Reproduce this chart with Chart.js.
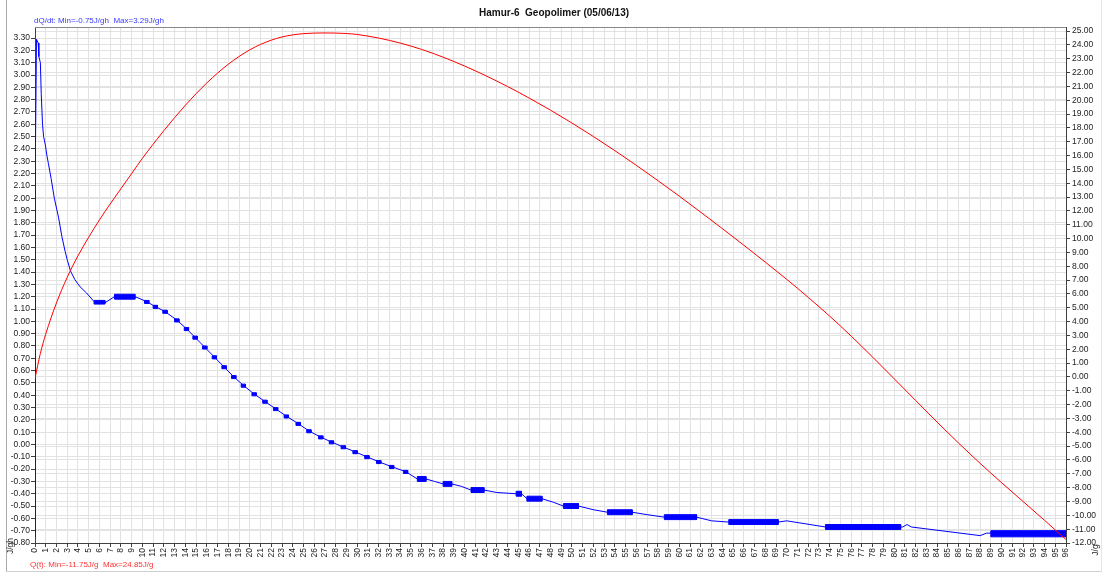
<!DOCTYPE html>
<html><head><meta charset="utf-8">
<script src="https://cdn.jsdelivr.net/npm/chart.js@4/dist/chart.umd.min.js"></script>
<style>html,body{margin:0;padding:0;background:#fff;overflow:hidden}canvas{display:block}</style>
</head><body>
<canvas id="c" width="1107" height="575"></canvas>
<script>
// ---- texts ----
const chartTitle = "Hamur-6  Geopolimer (05/06/13)";
const leftInfo = "dQ/dt: Min=-0.75J/gh  Max=3.29J/gh";
const rightInfo = "Q(t): Min=-11.75J/g  Max=24.85J/g";
const leftUnit = "J/gh";
const rightUnit = "J/g";

// ---- axis ranges ----
const hourRange = [0, 96];
const rateRange = [-0.8, 3.39];   // left axis J/gh
const heatRange = [-12, 25.29];   // right axis J/g

// ---- dQ/dt (blue), [hour, J/gh] ----
const ratePoints = [
 [0,-0.75],[0.03,2.3],[0.14,3.29],[0.3,3.26],[0.36,3.15],[0.5,3.1],[0.58,2.85],[0.7,2.6],[0.8,2.5],
 [0.95,2.44],[1.1,2.35],[1.25,2.28],[1.5,2.16],[1.8,2.0],[2.0,1.92],[2.2,1.84],[2.5,1.69],[2.8,1.57],
 [3.0,1.5],[3.3,1.41],[3.7,1.34],[4.2,1.28],[4.8,1.23],[5.5,1.16],[6.0,1.15],[6.5,1.15],[7.4,1.20],
 [8.3,1.20],[9.3,1.20],[9.6,1.19],[10.4,1.16],[11.2,1.12],[12.1,1.08],[13.2,1.01],[14.1,0.94],
 [14.9,0.87],[15.8,0.79],[16.7,0.71],[17.6,0.63],[18.5,0.55],[19.4,0.48],[20.4,0.41],[21.4,0.35],
 [22.4,0.29],[23.4,0.23],[24.5,0.17],[25.5,0.11],[26.6,0.06],[27.6,0.02],[28.7,-0.02],[29.8,-0.06],
 [30.9,-0.10],[32.0,-0.14],[33.2,-0.18],[34.5,-0.22],[35.6,-0.28],[36.4,-0.28],[37.2,-0.30],
 [38.0,-0.32],[38.8,-0.32],[39.7,-0.34],[40.6,-0.37],[41.8,-0.37],[43.0,-0.39],[44.8,-0.40],
 [45.3,-0.40],[45.8,-0.44],[47.2,-0.44],[48.3,-0.47],[49.2,-0.50],[50.6,-0.50],[52.0,-0.53],
 [53.3,-0.55],[55.6,-0.55],[57.0,-0.57],[58.6,-0.59],[61.6,-0.59],[63.0,-0.62],[64.6,-0.63],
 [69.2,-0.63],[70.0,-0.62],[73.6,-0.67],[80.6,-0.67],[80.8,-0.67],[81.2,-0.65],[81.6,-0.67],
 [88.0,-0.74],[88.6,-0.72],[89.0,-0.72],[96,-0.72]
];

// ---- noisy dQ/dt bands: [startHour, endHour, low, high] ----
const rateBands = [
 [5.5,6.5,1.14,1.17],[7.4,9.3,1.18,1.22],
 [10.2,10.6,1.145,1.17],[11.0,11.4,1.105,1.13],[11.9,12.3,1.065,1.09],[13.0,13.4,0.995,1.02],
 [13.9,14.3,0.925,0.95],[14.7,15.1,0.855,0.88],[15.6,16.0,0.775,0.80],[16.5,16.9,0.695,0.72],
 [17.4,17.8,0.615,0.64],[18.3,18.7,0.535,0.56],[19.2,19.6,0.465,0.49],[20.2,20.6,0.395,0.42],
 [21.2,21.6,0.335,0.36],[22.2,22.6,0.275,0.30],[23.2,23.6,0.215,0.24],[24.3,24.7,0.155,0.18],
 [25.3,25.7,0.095,0.12],[26.4,26.8,0.045,0.07],[27.4,27.8,0.005,0.03],[28.5,28.9,-0.035,-0.01],
 [29.6,30.0,-0.075,-0.05],[30.7,31.1,-0.115,-0.09],[31.8,32.2,-0.155,-0.13],[33.0,33.4,-0.195,-0.17],
 [34.3,34.7,-0.235,-0.21],
 [35.6,36.4,-0.30,-0.26],[38.0,38.8,-0.34,-0.30],[40.6,41.8,-0.39,-0.35],[44.8,45.3,-0.42,-0.38],
 [45.8,47.2,-0.46,-0.42],[49.2,50.6,-0.52,-0.48],[53.3,55.6,-0.57,-0.53],[58.6,61.6,-0.61,-0.57],
 [64.6,69.2,-0.65,-0.61],[73.6,80.6,-0.69,-0.65],[89.0,96,-0.75,-0.70]
];

// ---- Q(t) (red) ----
const heatHours = [0,0.5,1,2,3,4,5,6,7,8,9,10,11,12,13,14,15,16,17,18,19,20,21,22,23,24,25,26,27,28,29,30,
 32,34,36,38,40,42,44,46,48,50,52,54,56,58,60,62,64,66,68,70,72,74,76,78,80,82,84,86,88,90,92,94,96];
const heatValues = [-0.1,1.7,3.1,5.35,7.2,8.75,10.1,11.35,12.5,13.6,14.7,15.8,16.82,17.8,18.74,19.63,20.47,
 21.25,21.96,22.6,23.16,23.64,24.03,24.34,24.57,24.72,24.81,24.85,24.86,24.85,24.82,24.75,
 24.49,24.13,23.67,23.11,22.47,21.76,20.99,20.16,19.28,18.35,17.37,16.35,15.29,14.19,13.06,11.90,
 10.72,9.52,8.30,7.05,5.75,4.39,2.95,1.43,-0.13,-1.70,-3.26,-4.78,-6.24,-7.64,-9.00,-10.36,-11.75];

// ---- build datasets ----
const BLUE = '#0000ff', RED = '#ff0000';
const datasets = [];
datasets.push({
  label: 'Q(t)', yAxisID: 'yR', order: 0,
  data: heatHours.map((h, i) => ({x: h, y: heatValues[i]})),
  borderColor: RED, borderWidth: 1, pointRadius: 0, cubicInterpolationMode: 'monotone', fill: false
});
datasets.push({
  label: 'dQ/dt', yAxisID: 'yL', order: 1,
  data: ratePoints.map(p => ({x: p[0], y: p[1]})),
  borderColor: BLUE, borderWidth: 1, pointRadius: 0, tension: 0, fill: false
});
rateBands.forEach((b, i) => {
  datasets.push({
    label: 'band' + i, yAxisID: 'yL', order: 2,
    data: [{x:b[0],y:b[2]},{x:b[0],y:b[3]},{x:b[1],y:b[3]},{x:b[1],y:b[2]},{x:b[0],y:b[2]}],
    borderColor: BLUE, borderWidth: 1, backgroundColor: BLUE, pointRadius: 0, tension: 0, fill: 'shape'
  });
});

const tickFont = {family: '"Liberation Sans", Arial, sans-serif', size: 8.5};
const GRID = '#e2e2e2', AXIS = '#404040';

const decor = {
  id: 'decor',
  beforeDraw(chart) {
    const ctx = chart.ctx;
    ctx.save(); ctx.fillStyle = '#fff'; ctx.fillRect(0, 0, chart.width, chart.height); ctx.restore();
  },
  afterDraw(chart) {
    const ctx = chart.ctx, a = chart.chartArea;
    ctx.save();
    // top frame line of plot
    ctx.strokeStyle = '#888'; ctx.lineWidth = 1;
    ctx.beginPath(); ctx.moveTo(a.left, a.top + 0.5); ctx.lineTo(a.right, a.top + 0.5); ctx.stroke();
    // outer panel edges
    ctx.strokeStyle = '#a8a8a8';
    ctx.beginPath(); ctx.moveTo(6.5, 0); ctx.lineTo(6.5, 572); ctx.stroke();
    ctx.strokeStyle = '#cfcfcf';
    ctx.beginPath(); ctx.moveTo(6, 571.5); ctx.lineTo(1102, 571.5); ctx.stroke();
    ctx.strokeStyle = '#e4e4e4';
    ctx.beginPath(); ctx.moveTo(1101.5, 0); ctx.lineTo(1101.5, 572); ctx.stroke();
    // title
    ctx.fillStyle = '#111'; ctx.textAlign = 'center'; ctx.textBaseline = 'middle';
    ctx.font = 'bold 10px "Liberation Sans", Arial, sans-serif';
    ctx.fillText(chartTitle, (a.left + a.right) / 2 + 3.5, 13.5);
    // series info
    ctx.font = '8px "Liberation Sans", Arial, sans-serif';
    ctx.textAlign = 'left';
    ctx.fillStyle = '#3a3aff';
    ctx.fillText(leftInfo, a.left - 1, 20.5);
    ctx.fillStyle = '#ff3333';
    ctx.fillText(rightInfo, 30, 565);
    // units
    ctx.fillStyle = '#222';
    ctx.font = '8.5px "Liberation Sans", Arial, sans-serif';
    ctx.textAlign = 'center';
    ctx.save(); ctx.translate(11, 546); ctx.rotate(-Math.PI / 2); ctx.fillText(leftUnit, 0, 0); ctx.restore();
    ctx.save(); ctx.translate(1096, 550); ctx.rotate(-Math.PI / 2); ctx.fillText(rightUnit, 0, 0); ctx.restore();
    ctx.restore();
  }
};

new Chart(document.getElementById('c'), {
  type: 'line',
  data: {datasets},
  options: {
    responsive: false, animation: false, devicePixelRatio: 1,
    layout: {padding: {top: 27, left: 0, right: 0, bottom: 0}},
    plugins: {legend: {display: false}, tooltip: {enabled: false}, title: {display: false}},
    scales: {
      x: {
        type: 'linear', position: 'bottom', min: hourRange[0], max: hourRange[1],
        ticks: {stepSize: 1, autoSkip: false, maxRotation: 90, minRotation: 90, padding: 1,
                font: tickFont, color: '#222', callback: v => String(v)},
        grid: {color: GRID, lineWidth: 1, tickLength: 4, tickColor: AXIS, drawTicks: true},
        border: {display: true, color: AXIS, width: 1},
        afterFit: s => { s.height = 32; }
      },
      yL: {
        type: 'linear', position: 'left', min: rateRange[0], max: rateRange[1],
        ticks: {stepSize: 0.1, autoSkip: false, includeBounds: false, padding: 1, font: tickFont,
                color: '#222', callback: v => Number(v).toFixed(2)},
        grid: {color: GRID, lineWidth: 1, tickLength: 4, tickColor: AXIS},
        border: {display: true, color: AXIS, width: 1},
        afterFit: s => { s.width = 35; }
      },
      yR: {
        type: 'linear', position: 'right', min: heatRange[0], max: heatRange[1],
        ticks: {stepSize: 1, autoSkip: false, includeBounds: false, padding: 2, font: tickFont,
                color: '#222', callback: v => Number(v).toFixed(2)},
        grid: {color: GRID, lineWidth: 1, tickLength: 4, tickColor: AXIS, drawOnChartArea: true},
        border: {display: true, color: AXIS, width: 1},
        afterFit: s => { s.width = 41; }
      }
    }
  },
  plugins: [decor]
});
</script>
</body></html>
